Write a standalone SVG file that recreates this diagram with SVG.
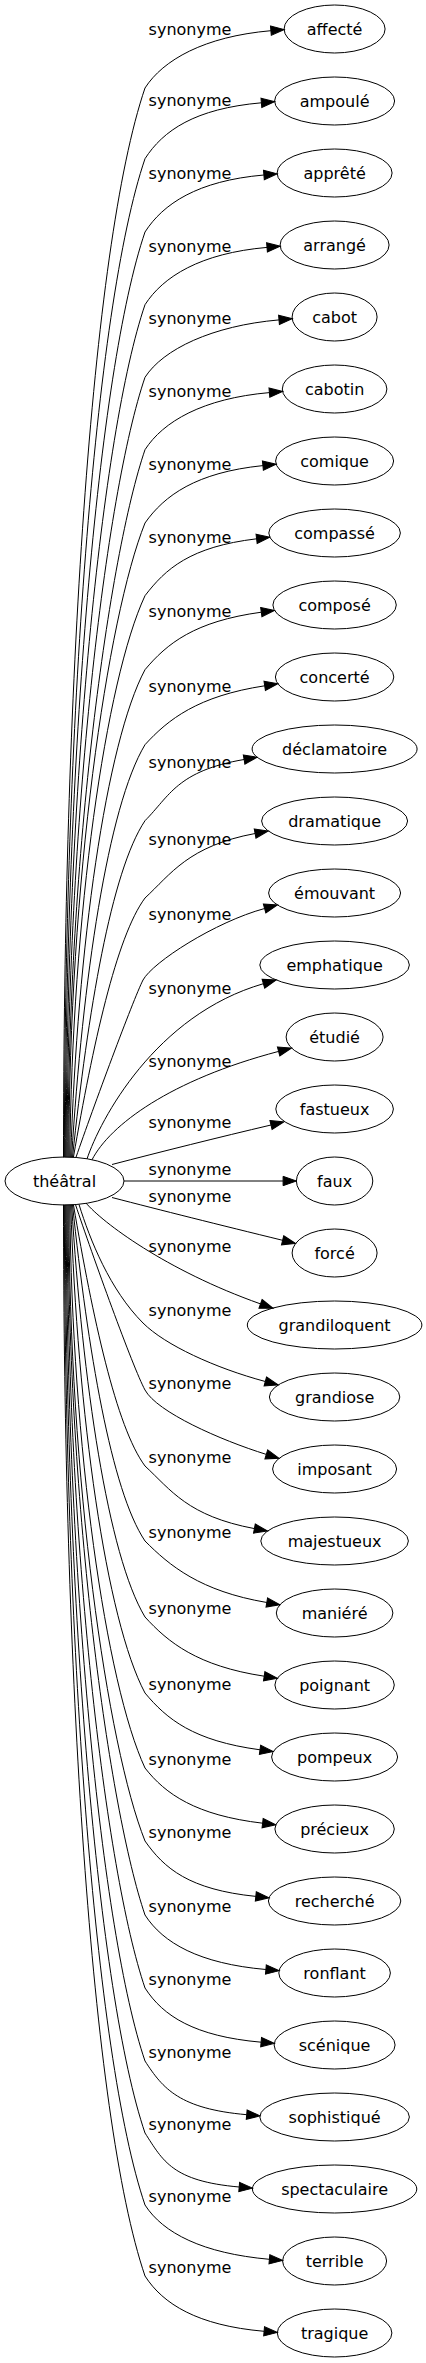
<svg xmlns="http://www.w3.org/2000/svg" width="426" height="2363" viewBox="0 0 426 2363">
<style>
.node ellipse{fill:none;stroke:#000;stroke-width:1}
.node text{font-family:"DejaVu Sans",sans-serif;font-size:16px;text-anchor:middle;fill:#000}
.edge path{fill:none;stroke:#000;stroke-width:1;marker-end:url(#arr)}
.edge text{font-family:"DejaVu Sans",sans-serif;font-size:16px;text-anchor:middle;fill:#000}
</style>
<defs>
<marker id="arr" markerUnits="userSpaceOnUse" viewBox="-1 -6 16 12" markerWidth="16" markerHeight="12" refX="0" refY="0" orient="auto">
<path d="M0,-4.67L13.3,0L0,4.67z" fill="#000" stroke="#000" stroke-width="1"/>
</marker>
</defs>
<rect width="426" height="2363" fill="#fff"/>
<g id="connectors">
<g class="edge" id="e-affecte"><path d="M63.5,1157.3C63.5,697.5 90.5,248.4 145,88C163,60 204.1,36.5 270.9,30.7"/><text x="190" y="35">synonyme</text></g>
<g class="edge" id="e-ampoule"><path d="M64.4,1157.3C64.4,727.9 94.1,308.5 145,158.7C163,130.7 194.6,108.6 261.4,102.8"/><text x="190" y="105.7">synonyme</text></g>
<g class="edge" id="e-apprete"><path d="M65.3,1157.3C65.3,759.4 97.8,370.8 145,232C163,204 197.1,180.8 263.9,175"/><text x="190" y="179">synonyme</text></g>
<g class="edge" id="e-arrange"><path d="M66.2,1157.3C66.2,790.7 101.5,432.6 145,304.7C163,276.7 200.2,253.2 267,247.4"/><text x="190" y="251.7">synonyme</text></g>
<g class="edge" id="e-cabot"><path d="M67.1,1157.3C67.1,821.9 105.2,494.3 145,377.3C163,349.3 212.2,325.7 279,319.9"/><text x="190" y="324.3">synonyme</text></g>
<g class="edge" id="e-cabotin"><path d="M68,1157.3C68,853 108.9,555.8 145,449.7C163,421.7 202.6,398.4 269.4,392.6"/><text x="190" y="396.7">synonyme</text></g>
<g class="edge" id="e-comique"><path d="M68.9,1157.3C68.9,884.6 107,618.1 145,523C164.2,495.6 196.1,472.4 262.9,465.6"/><text x="190" y="470">synonyme</text></g>
<g class="edge" id="e-compasse"><path d="M69.8,1157.3C72.1,915.8 105.7,679.9 145,595.7C165.5,569 189.8,546.8 256.6,538.8"/><text x="190" y="542.7">synonyme</text></g>
<g class="edge" id="e-compose"><path d="M70.7,1157.3C77.4,947.6 106,742.8 145,669.7C166.9,643.6 194.5,621.3 261.3,612.2"/><text x="190" y="616.7">synonyme</text></g>
<g class="edge" id="e-concerte"><path d="M71.6,1157.3C82.6,979.9 107.8,806.6 145,744.7C168.2,719.3 197.8,696 264.7,685.8"/><text x="190" y="691.7">synonyme</text></g>
<g class="edge" id="e-declamatoire"><path d="M72.5,1157.3C87.7,1012.6 111.2,871.2 145,820.7C169.6,796 177.2,770.9 244.1,759.5"/><text x="190" y="767.7">synonyme</text></g>
<g class="edge" id="e-dramatique"><path d="M73.4,1157.3C92.7,1045.8 116.2,936.9 145,898C171,874 188.2,846 255.1,833.5"/><text x="190" y="845">synonyme</text></g>
<g class="edge" id="e-emouvant"><path d="M76,1157.3C93,1108 133,1000 143,980C153,962 215,922 264.6,908.5"/><text x="190" y="919.5">synonyme</text></g>
<g class="edge" id="e-emphatique"><path d="M87,1159C100,1120 155,1015 263.4,983.7"/><text x="190" y="994.3">synonyme</text></g>
<g class="edge" id="e-etudie"><path d="M92,1159.8C110,1125 170,1080 278.6,1051.4"/><text x="190" y="1066.5">synonyme</text></g>
<g class="edge" id="e-fastueux"><path d="M112,1164.5C160,1152 220,1137 271,1125"/><text x="190" y="1128.3">synonyme</text></g>
<g class="edge" id="e-faux"><path d="M124,1181L283.1,1181"/><text x="190" y="1175">synonyme</text></g>
<g class="edge" id="e-force"><path d="M112,1197.5C160,1210 220,1225 282.6,1240.3"/><text x="190" y="1202">synonyme</text></g>
<g class="edge" id="e-grandiloquent"><path d="M86,1203C102,1222 165,1270 260.5,1303.9"/><text x="190" y="1252">synonyme</text></g>
<g class="edge" id="e-grandiose"><path d="M79,1204.4C90,1240 110,1290 143,1323C165,1345 215,1368 265.3,1381.5"/><text x="190" y="1316">synonyme</text></g>
<g class="edge" id="e-imposant"><path d="M75.5,1204.6C92,1254 133,1368 145,1390C157,1412 220,1440 266.3,1454.4"/><text x="190" y="1389">synonyme</text></g>
<g class="edge" id="e-majestueux"><path d="M73.4,1204.7C92.7,1317.1 116,1426.8 145,1466C171,1490 187.5,1516 254.4,1528.6"/><text x="190" y="1463">synonyme</text></g>
<g class="edge" id="e-maniere"><path d="M72.5,1204.7C87.7,1349.3 111.2,1490.6 145,1541C169.6,1565.7 199.9,1591.1 266.8,1602.5"/><text x="190" y="1538">synonyme</text></g>
<g class="edge" id="e-poignant"><path d="M71.6,1204.7C82.6,1382 107.8,1555.2 145,1617C168.2,1642.4 197.3,1666 264.2,1676.2"/><text x="190" y="1614">synonyme</text></g>
<g class="edge" id="e-pompeux"><path d="M70.7,1204.7C77.4,1414.7 106,1619.8 145,1693C166.8,1719.1 193.2,1740.8 260,1749.8"/><text x="190" y="1690">synonyme</text></g>
<g class="edge" id="e-precieux"><path d="M69.8,1204.7C72,1446.9 105.8,1683.5 145,1768C165.5,1794.2 195.8,1815.3 262.6,1823.2"/><text x="190" y="1765">synonyme</text></g>
<g class="edge" id="e-recherche"><path d="M68.9,1204.7C68.9,1478.3 107,1745.6 145,1841C164.2,1868.4 189,1889.6 255.8,1896.4"/><text x="190" y="1838">synonyme</text></g>
<g class="edge" id="e-ronflant"><path d="M68,1204.7C68,1510.1 108.8,1808.5 145,1915C163,1943 199.1,1963.6 265.9,1969.5"/><text x="190" y="1912">synonyme</text></g>
<g class="edge" id="e-scenique"><path d="M67.1,1204.7C67.1,1541.5 105,1870.5 145,1988C163,2016 194.3,2036.3 261.1,2042.2"/><text x="190" y="1985">synonyme</text></g>
<g class="edge" id="e-sophistique"><path d="M66.2,1204.7C66.2,1572.9 101.3,1932.6 145,2061C163,2089 179.9,2108.8 246.7,2114.7"/><text x="190" y="2058">synonyme</text></g>
<g class="edge" id="e-spectaculaire"><path d="M65.3,1204.7C65.3,1603.9 97.7,1993.8 145,2133C163,2161 172.4,2181.2 239.2,2187"/><text x="190" y="2130">synonyme</text></g>
<g class="edge" id="e-terrible"><path d="M64.4,1204.7C64.4,1634.8 94,2055 145,2205C163,2233 202.6,2253.4 269.4,2259.3"/><text x="190" y="2202">synonyme</text></g>
<g class="edge" id="e-tragique"><path d="M63.5,1204.7C63.5,1665.4 90.4,2115.3 145,2276C163,2304 197.3,2325.5 264.1,2331.3"/><text x="190" y="2273">synonyme</text></g>
</g>
<g id="n-theatral" class="node"><ellipse cx="64.5" cy="1181" rx="59.5" ry="24"/><text x="64.5" y="1186.7">théâtral</text></g>
<g id="n-affecte" class="node"><ellipse cx="334.6" cy="29" rx="50.5" ry="24"/><text x="334.6" y="34.7">affecté</text></g>
<g id="n-ampoule" class="node"><ellipse cx="334.6" cy="101" rx="60" ry="24"/><text x="334.6" y="106.7">ampoulé</text></g>
<g id="n-apprete" class="node"><ellipse cx="334.6" cy="173" rx="57.5" ry="24"/><text x="334.6" y="178.7">apprêté</text></g>
<g id="n-arrange" class="node"><ellipse cx="334.6" cy="245" rx="54.5" ry="24"/><text x="334.6" y="250.7">arrangé</text></g>
<g id="n-cabot" class="node"><ellipse cx="334.6" cy="317" rx="42.5" ry="24"/><text x="334.6" y="322.7">cabot</text></g>
<g id="n-cabotin" class="node"><ellipse cx="334.6" cy="389" rx="52.3" ry="24"/><text x="334.6" y="394.7">cabotin</text></g>
<g id="n-comique" class="node"><ellipse cx="334.6" cy="461" rx="59" ry="24"/><text x="334.6" y="466.7">comique</text></g>
<g id="n-compasse" class="node"><ellipse cx="334.6" cy="533" rx="65.8" ry="24"/><text x="334.6" y="538.7">compassé</text></g>
<g id="n-compose" class="node"><ellipse cx="334.6" cy="605" rx="61.7" ry="24"/><text x="334.6" y="610.7">composé</text></g>
<g id="n-concerte" class="node"><ellipse cx="334.6" cy="677" rx="59.2" ry="24"/><text x="334.6" y="682.7">concerté</text></g>
<g id="n-declamatoire" class="node"><ellipse cx="334.6" cy="749" rx="82.5" ry="24"/><text x="334.6" y="754.7">déclamatoire</text></g>
<g id="n-dramatique" class="node"><ellipse cx="334.6" cy="821" rx="73" ry="24"/><text x="334.6" y="826.7">dramatique</text></g>
<g id="n-emouvant" class="node"><ellipse cx="334.6" cy="893" rx="66" ry="24"/><text x="334.6" y="898.7">émouvant</text></g>
<g id="n-emphatique" class="node"><ellipse cx="334.6" cy="965" rx="74.8" ry="24"/><text x="334.6" y="970.7">emphatique</text></g>
<g id="n-etudie" class="node"><ellipse cx="334.6" cy="1037" rx="48.5" ry="24"/><text x="334.6" y="1042.7">étudié</text></g>
<g id="n-fastueux" class="node"><ellipse cx="334.6" cy="1109" rx="58.8" ry="24"/><text x="334.6" y="1114.7">fastueux</text></g>
<g id="n-faux" class="node"><ellipse cx="334.6" cy="1181" rx="38.2" ry="24"/><text x="334.6" y="1186.7">faux</text></g>
<g id="n-force" class="node"><ellipse cx="334.6" cy="1253" rx="42.5" ry="24"/><text x="334.6" y="1258.7">forcé</text></g>
<g id="n-grandiloquent" class="node"><ellipse cx="334.6" cy="1325" rx="87.3" ry="24"/><text x="334.6" y="1330.7">grandiloquent</text></g>
<g id="n-grandiose" class="node"><ellipse cx="334.6" cy="1397" rx="65.2" ry="24"/><text x="334.6" y="1402.7">grandiose</text></g>
<g id="n-imposant" class="node"><ellipse cx="334.6" cy="1469" rx="62" ry="24"/><text x="334.6" y="1474.7">imposant</text></g>
<g id="n-majestueux" class="node"><ellipse cx="334.6" cy="1541" rx="73.8" ry="24"/><text x="334.6" y="1546.7">majestueux</text></g>
<g id="n-maniere" class="node"><ellipse cx="334.6" cy="1613" rx="58.3" ry="24"/><text x="334.6" y="1618.7">maniéré</text></g>
<g id="n-poignant" class="node"><ellipse cx="334.6" cy="1685" rx="59.7" ry="24"/><text x="334.6" y="1690.7">poignant</text></g>
<g id="n-pompeux" class="node"><ellipse cx="334.6" cy="1757" rx="63" ry="24"/><text x="334.6" y="1762.7">pompeux</text></g>
<g id="n-precieux" class="node"><ellipse cx="334.6" cy="1829" rx="59.7" ry="24"/><text x="334.6" y="1834.7">précieux</text></g>
<g id="n-recherche" class="node"><ellipse cx="334.6" cy="1901" rx="66.2" ry="24"/><text x="334.6" y="1906.7">recherché</text></g>
<g id="n-ronflant" class="node"><ellipse cx="334.6" cy="1973" rx="55.8" ry="24"/><text x="334.6" y="1978.7">ronflant</text></g>
<g id="n-scenique" class="node"><ellipse cx="334.6" cy="2045" rx="60.5" ry="24"/><text x="334.6" y="2050.7">scénique</text></g>
<g id="n-sophistique" class="node"><ellipse cx="334.6" cy="2117" rx="74.8" ry="24"/><text x="334.6" y="2122.7">sophistiqué</text></g>
<g id="n-spectaculaire" class="node"><ellipse cx="334.6" cy="2189" rx="82.2" ry="24"/><text x="334.6" y="2194.7">spectaculaire</text></g>
<g id="n-terrible" class="node"><ellipse cx="334.6" cy="2261" rx="52" ry="24"/><text x="334.6" y="2266.7">terrible</text></g>
<g id="n-tragique" class="node"><ellipse cx="334.6" cy="2333" rx="57.3" ry="24"/><text x="334.6" y="2338.7">tragique</text></g>
</svg>
